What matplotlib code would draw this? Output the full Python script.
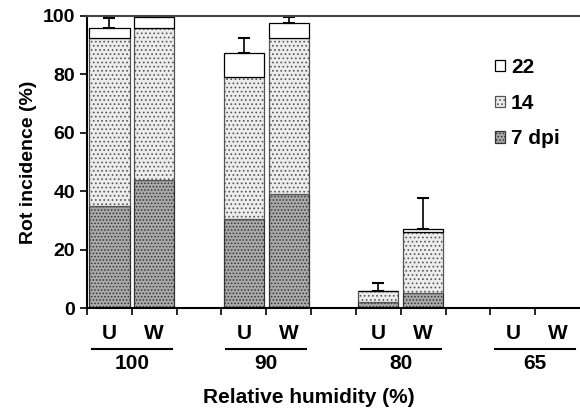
import matplotlib
matplotlib.use("Agg")
import matplotlib.pyplot as plt
from matplotlib.patches import Patch
from matplotlib.transforms import blended_transform_factory
import numpy as np

plt.rcParams['font.family'] = ['Liberation Sans', 'DejaVu Sans']
plt.rcParams['font.weight'] = 'bold'
plt.rcParams['hatch.linewidth'] = 0.7

groups = ["100", "90", "80", "65"]
treatments = ["U", "W"]
# cumulative values per bar: U100, W100, U90, W90, U80, W80, U65, W65
dpi7 = [35, 44, 30.5, 39, 2, 5.2, 0, 0]
dpi14 = [92.3, 96, 79, 92.3, 5.9, 25.9, 0, 0]
dpi22 = [96, 99.6, 87.4, 97.5, 5.9, 27.2, 0, 0]
err_top = [99.3, 100, 92.6, 99.6, 8.5, 37.6, 0, 0]

positions = [0.5, 1.5, 3.5, 4.5, 6.5, 7.5, 9.5, 10.5]

fig = plt.figure(figsize=(5.8, 4.08), dpi=100)
ax = fig.add_axes([0.15, 0.245, 0.85, 0.716])

w = 0.9
c7 = '#a9a9a9'
c14 = '#ececec'
for i, x in enumerate(positions):
    if dpi22[i] <= 0:
        continue
    ax.bar(x, dpi7[i], width=w, color=c7, edgecolor='#333333', linewidth=0.9, hatch='.....')
    ax.bar(x, dpi14[i] - dpi7[i], bottom=dpi7[i], width=w, color=c14, edgecolor='#555555', linewidth=0.9, hatch='....')
    ax.bar(x, dpi22[i] - dpi14[i], bottom=dpi14[i], width=w, color='white', edgecolor='black', linewidth=0.9)
    e = err_top[i] - dpi22[i]
    if e > 0:
        ax.errorbar(x, dpi22[i], yerr=[[0], [e]], fmt='none', ecolor='black', elinewidth=1.2, capsize=4, capthick=1.5)

ax.set_xlim(0, 11)
ax.set_ylim(0, 100)
ax.set_yticks(np.arange(0, 101, 20))
ax.set_xticks(np.arange(0, 11))
ax.set_xticklabels([])
ax.tick_params(axis='y', labelsize=14, width=1.2, length=5, direction='out')
ax.tick_params(axis='x', width=1.2, length=5, direction='out')
for lab in ax.get_yticklabels():
    lab.set_fontweight('bold')
ax.spines['right'].set_visible(False)
ax.spines['left'].set_linewidth(1.5)
ax.spines['bottom'].set_linewidth(1.5)
ax.spines['top'].set_linewidth(1.5)
ax.spines['top'].set_color('#444444')

trans = blended_transform_factory(ax.transData, ax.transAxes)
for g, name in enumerate(groups):
    base = g * 3
    for t, tr in enumerate(treatments):
        ax.text(base + t + 0.5, -0.086, tr, transform=trans, ha='center', va='center',
                fontsize=15, fontweight='bold')
    ax.plot([base + 0.11, base + 1.89], [-0.14, -0.14], transform=trans, color='black',
            lw=1.5, clip_on=False)
    ax.text(base + 1.0, -0.19, name, transform=trans, ha='center', va='center',
            fontsize=15, fontweight='bold')

ax.text(0.45, -0.305, "Relative humidity (%)", transform=ax.transAxes, ha='center',
        va='center', fontsize=15, fontweight='bold')
ax.set_ylabel("Rot incidence (%)", fontsize=14, fontweight='bold', labelpad=4)

handles = [Patch(facecolor='white', edgecolor='black', linewidth=0.9),
           Patch(facecolor=c14, edgecolor='#555555', linewidth=0.9, hatch='....'),
           Patch(facecolor=c7, edgecolor='#333333', linewidth=0.9, hatch='.....')]
labels = ["22", "14", "7 dpi"]
leg = ax.legend(handles, labels, loc='upper left', bbox_to_anchor=(0.79, 0.92),
                frameon=False, handlelength=0.45, handleheight=0.45, handletextpad=0.3,
                labelspacing=0.8, prop={'weight': 'bold', 'size': 15})

fig.savefig("out.png", dpi=100)
